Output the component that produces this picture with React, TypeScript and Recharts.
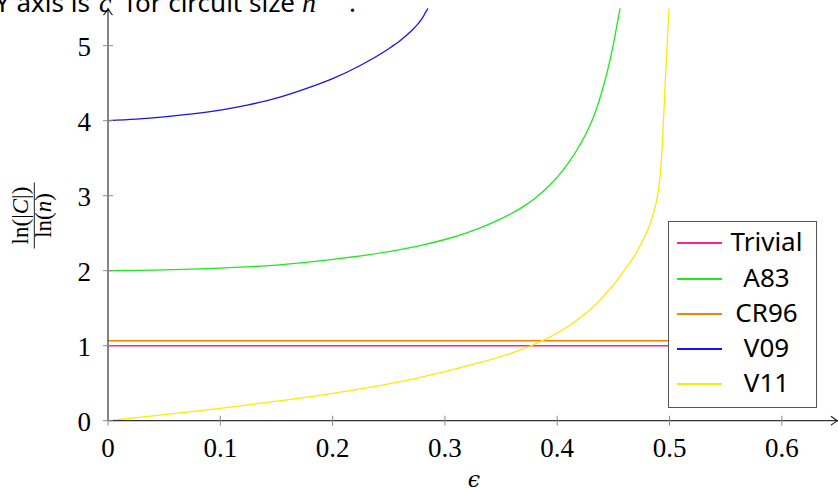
import React from 'react';
import { LineChart, Line, XAxis, YAxis, ReferenceDot, Legend } from 'recharts';

// ---- data ----
const xTicks = [0, 0.1, 0.2, 0.3, 0.4, 0.5, 0.6];
const xTickLabels = ['0', '0.1', '0.2', '0.3', '0.4', '0.5', '0.6'];
const yTicks = [0, 1, 2, 3, 4, 5];
const yTickLabels = ['0', '1', '2', '3', '4', '5'];

const seriesNames = ['Trivial', 'A83', 'CR96', 'V09', 'V11'];
const seriesColors = ['#f2279b', '#19ec19', '#ff8000', '#1414f2', '#fdea00'];
const seriesWidths = [1.6, 1.3, 1.5, 1.3, 1.3];

const trivialEps = [0, 0.5];
const trivialVal = [1, 1];

const a83Eps = [0, 0.05, 0.1, 0.15, 0.2, 0.25, 0.28, 0.3, 0.32, 0.34, 0.36, 0.37, 0.38, 0.39, 0.4, 0.41, 0.42, 0.43, 0.435, 0.44, 0.445, 0.45, 0.453, 0.456];
const a83Val = [2.0, 2.01, 2.035, 2.075, 2.15, 2.255, 2.342, 2.416, 2.508, 2.624, 2.77, 2.858, 2.964, 3.092, 3.247, 3.437, 3.672, 3.967, 4.16, 4.4, 4.68, 5.02, 5.26, 5.5];

const cr96Eps = [0, 0.5];
const cr96Val = [1.067, 1.067];

const v09Eps = [0, 0.025, 0.05, 0.075, 0.1, 0.125, 0.15, 0.175, 0.2, 0.225, 0.25, 0.26, 0.27, 0.276, 0.28, 0.283, 0.285];
const v09Val = [4.0, 4.02, 4.05, 4.09, 4.14, 4.21, 4.3, 4.42, 4.56, 4.74, 4.96, 5.065, 5.195, 5.29, 5.37, 5.45, 5.5];

const v11Eps = [0, 0.05, 0.1, 0.15, 0.2, 0.25, 0.3, 0.33, 0.36, 0.38, 0.4, 0.41, 0.42, 0.43, 0.44, 0.45, 0.46, 0.47, 0.475, 0.48, 0.485, 0.488, 0.49, 0.492, 0.494, 0.496, 0.498, 0.4995];
const v11Val = [0, 0.08, 0.165, 0.26, 0.365, 0.49, 0.655, 0.77, 0.905, 1.02, 1.17, 1.26, 1.37, 1.49, 1.64, 1.81, 2.01, 2.23, 2.365, 2.525, 2.73, 2.9, 3.07, 3.33, 3.8, 4.45, 5.05, 5.5];

const xDomain = [0, 0.65];
const yDomain = [0, 5.5];

const toPoints = (xs: number[], ys: number[]) => xs.map((x, i) => ({ x, y: ys[i] }));

const seriesData = [
  toPoints(trivialEps, trivialVal),
  toPoints(a83Eps, a83Val),
  toPoints(cr96Eps, cr96Val),
  toPoints(v09Eps, v09Val),
  toPoints(v11Eps, v11Val),
];

const SERIF = '"Liberation Serif", "DejaVu Serif", serif';
const SANS = '"Noto Sans", "Open Sans", sans-serif';

const XTick = (props: any) => {
  const { x, y, payload } = props;
  const label = xTickLabels[xTicks.indexOf(payload.value)] ?? String(payload.value);
  return (
    <g>
      <line x1={x} x2={x} y1={y - 5} y2={y + 5} stroke="#8a8a8a" strokeWidth={1} />
      <text x={x} y={y + 36} textAnchor="middle" fontFamily={SERIF} fontSize={27} fill="#000">
        {label}
      </text>
    </g>
  );
};

const YTick = (props: any) => {
  const { x, y, payload } = props;
  const label = yTickLabels[yTicks.indexOf(payload.value)] ?? String(payload.value);
  return (
    <g>
      <line x1={x - 5} x2={x + 5} y1={y} y2={y} stroke="#8a8a8a" strokeWidth={1} />
      <text x={x - 17} y={y + 10} textAnchor="end" fontFamily={SERIF} fontSize={27} fill="#000">
        {label}
      </text>
    </g>
  );
};

const YLabel = () => {
  const cx = 34.3;
  const cy = 215.5;
  return (
    <g transform={`translate(${cx},${cy}) rotate(-90)`}>
      <text x={0} y={-6.5} textAnchor="middle" fontFamily={SERIF} fontSize={23} fill="#000">
        ln(|<tspan fontStyle="italic">C</tspan>|)
      </text>
      <line x1={-33} x2={33} y1={0} y2={0} stroke="#000" strokeWidth={0.9} />
      <text x={0} y={17} textAnchor="middle" fontFamily={SERIF} fontSize={23} fill="#000">
        ln(<tspan fontStyle="italic">n</tspan>)
      </text>
    </g>
  );
};

const XLabel = () => (
  <text x={474} y={487} textAnchor="middle" fontFamily='"DejaVu Serif", serif' fontStyle="italic" fontSize={22} fill="#000">
    ϵ
  </text>
);

const ArrowRight = (props: any) => {
  const { cx, cy } = props;
  return (
    <path
      d={`M ${cx - 7} ${cy - 4.5} Q ${cx - 2.5} ${cy - 1} ${cx - 0.5} ${cy} Q ${cx - 2.5} ${cy + 1} ${cx - 7} ${cy + 4.5}`}
      fill="none"
      stroke="#222"
      strokeWidth={1.1}
    />
  );
};

const ArrowUp = (props: any) => {
  const { cx, cy } = props;
  return (
    <path
      d={`M ${cx - 4.5} ${cy + 7} Q ${cx - 1} ${cy + 2.5} ${cx} ${cy + 0.5} Q ${cx + 1} ${cy + 2.5} ${cx + 4.5} ${cy + 7}`}
      fill="none"
      stroke="#222"
      strokeWidth={1.1}
    />
  );
};

const LegendBox = () => (
  <div
    style={{
      width: 149,
      height: 187,
      boxSizing: 'border-box',
      border: '1px solid #555',
      background: '#fff',
      position: 'relative',
    }}
  >
    {seriesNames.map((name, i) => {
      const lineY = Math.round(21.3 + i * 35.25);
      return (
        <div key={name}>
          <div
            style={{
              position: 'absolute',
              left: 8,
              top: lineY - 1,
              width: 45,
              height: 2,
              background: seriesColors[i],
            }}
          />
          <div
            style={{
              position: 'absolute',
              left: 57.5,
              width: 80,
              top: lineY - 18.7,
              height: 34,
              lineHeight: '34px',
              textAlign: 'center',
              fontFamily: SANS,
              fontSize: 26,
              color: '#000',
              whiteSpace: 'nowrap',
            }}
          >
            {name}
          </div>
        </div>
      );
    })}
  </div>
);

export default function App() {
  return (
    <div style={{ position: 'absolute', left: 0, top: 0, width: 838, height: 490, background: '#fff' }}>
      <LineChart width={838} height={490} margin={{ top: 8.2, right: 0, bottom: 0, left: 0 }}>
        <XAxis
          type="number"
          dataKey="x"
          domain={xDomain}
          ticks={xTicks}
          height={69.3}
          tickSize={0}
          tickMargin={0}
          tickLine={false}
          tick={<XTick />}
          axisLine={{ stroke: '#333', strokeWidth: 1.2 }}
          allowDataOverflow
          label={<XLabel />}
        />
        <YAxis
          type="number"
          dataKey="y"
          domain={yDomain}
          ticks={yTicks}
          width={108}
          tickSize={0}
          tickMargin={0}
          tickLine={false}
          tick={<YTick />}
          axisLine={{ stroke: '#333', strokeWidth: 1.2 }}
          allowDataOverflow
          label={<YLabel />}
        />
        {seriesData.map((d, i) => (
          <Line
            key={seriesNames[i]}
            data={d}
            dataKey="y"
            name={seriesNames[i]}
            type="monotoneX"
            stroke={seriesColors[i]}
            strokeWidth={seriesWidths[i]}
            dot={false}
            activeDot={false}
            isAnimationActive={false}
          />
        ))}
        <ReferenceDot x={xDomain[1]} y={0} ifOverflow="visible" shape={<ArrowRight />} />
        <ReferenceDot x={0} y={yDomain[1]} ifOverflow="visible" shape={<ArrowUp />} />
        <Legend
          layout="vertical"
          align="center"
          verticalAlign="middle"
          content={<LegendBox />}
          wrapperStyle={{ left: 668, top: 221, width: 149, height: 187 }}
        />
      </LineChart>
      <svg
        width={838}
        height={30}
        style={{ position: 'absolute', left: 0, top: 0, pointerEvents: 'none', overflow: 'visible' }}
      >
        <text y={12} fontFamily={SANS} fontSize={26} fill="#000">
          <tspan x={-5}>Y axis is</tspan>
          <tspan x={99} fontFamily={SERIF} fontStyle="italic" fontSize={28}>c</tspan>
          <tspan x={126}>for circuit size</tspan>
          <tspan x={302} fontFamily={SERIF} fontStyle="italic" fontSize={28}>n</tspan>
          <tspan x={320} y={-3} fontFamily={SERIF} fontStyle="italic" fontSize={18}>c</tspan>
          <tspan x={349} y={12}>.</tspan>
        </text>
      </svg>
    </div>
  );
}
